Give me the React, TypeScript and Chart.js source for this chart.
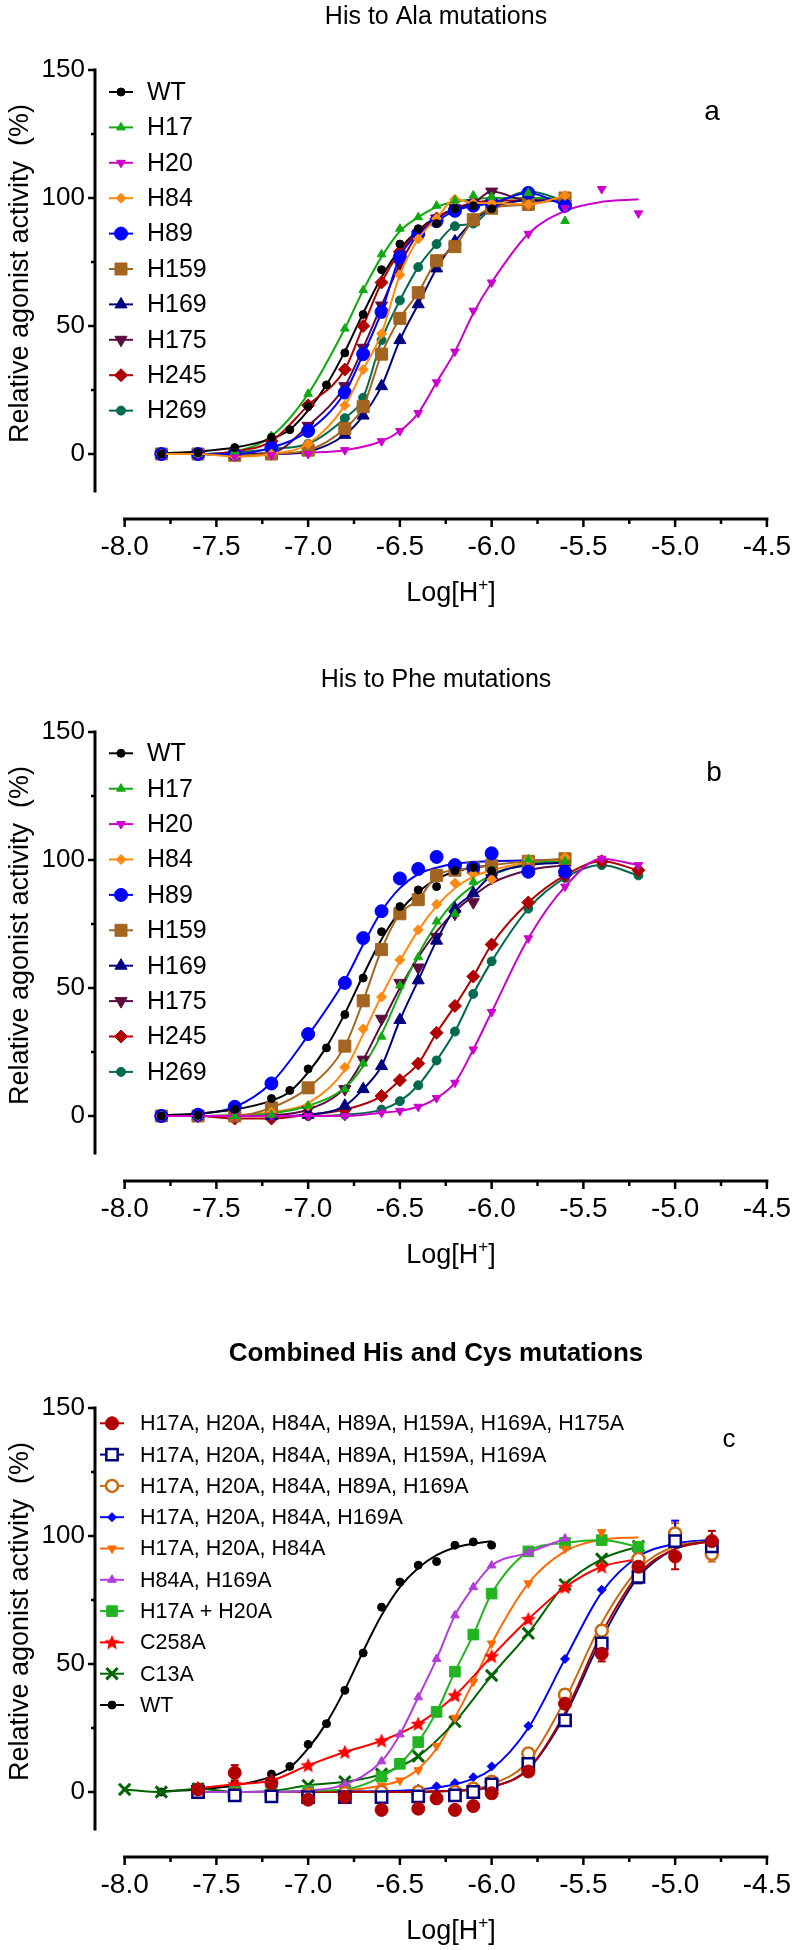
import React, { useEffect, useRef } from 'react';
import { Chart, registerables } from 'chart.js';
import { drawPoint } from 'chart.js/helpers';

Chart.register(...registerables);

const FONT = '"Liberation Sans", Arial, Helvetica, sans-serif';

// ---------- axis ticks ----------
const X_TICKS = [-8, -7.5, -7, -6.5, -6, -5.5, -5, -4.5];
const X_MINOR = [-7.75, -7.25, -6.75, -6.25, -5.75, -5.25, -4.75];
const Y_TICKS = [0, 50, 100, 150];
const Y_MINOR = [25, 75, 125];

// ---------- x grids (Log[H+]) ----------
const X_WT = [-7.8, -7.6, -7.4, -7.2, -7.1, -7.0, -6.9, -6.8, -6.7, -6.6, -6.5, -6.4, -6.3, -6.2, -6.1, -6.0];
const X_STD = [-7.8, -7.6, -7.4, -7.2, -7.0, -6.8, -6.7, -6.6, -6.5, -6.4, -6.3, -6.2, -6.1, -6.0, -5.8, -5.6];
const X_LONG = [-7.8, -7.6, -7.4, -7.2, -7.0, -6.8, -6.6, -6.5, -6.4, -6.3, -6.2, -6.1, -6.0, -5.8, -5.6, -5.4, -5.2];

// WT fitted curve (same WT in all panels)
const WT_FIT = [0.3, 1, 2.5, 6, 9.5, 17, 27, 40, 55, 69, 80, 87.5, 92.5, 95.5, 97, 98];

// ---------- panel a : His to Ala ----------
const A_WT = [0, 0.5, 2.5, 6.5, 9.5, 18.5, 27, 39.5, 54.5, 72, 82, 88, 90, 95.8, 97, 95.8];
const A_H17 = [0, 0, 1, 7, 23.5, 49, 64, 78, 88, 92.5, 97, 99, 101, 100.5, 102, 91];
const A_H17_FIT = [0, 0, 1, 7, 23.5, 49, 64, 77, 87, 92.5, 96.5, 98.5, 99.5, 100, 100, 100];
const A_H20 = [0, 0, -1, -0.5, 0, 1.5, 5, 9, 16, 28, 40, 56, 67, 86, 96, 103.5, 94];
const A_H20_FIT_X = [-7.8, -7.2, -7.0, -6.8, -6.6, -6.5, -6.4, -6.3, -6.2, -6.1, -6.0, -5.8, -5.6, -5.4, -5.2];
const A_H20_FIT = [0, 0, 0.5, 1.5, 5, 9, 16, 28, 40, 55, 67, 86, 95, 98.5, 99.5];
const A_H84 = [0, 0, -1, 0, 4, 19, 33, 47, 70, 84, 92, 99.5, 98, 98, 97.5, 101];
const A_H89 = [0, 0, 0, 2.5, 9, 24, 39, 55.5, 77, 86, 91, 95, 97, 98, 102, 97];
const A_H159 = [0, 0, -0.5, 0, 1.5, 10, 18.5, 39, 53, 63, 75.5, 81, 91.5, 96, 97.5, 100];
const A_H169 = [0, 0, -0.5, 0, 1, 7.5, 15, 26.5, 44.5, 58.5, 72.5, 83, 91, 96, 99, 99];
const A_H175 = [0, 0, 0, 0.5, 11, 26.5, 41.5, 58, 74, 86, 92, 96, 98, 102.5, 99, 99];
const A_H245 = [0, 0, 1, 5, 19, 33, 50, 67, 79, 87, 92, 96, 98, 99, 99, 99];
const A_H269 = [0, 0, 0.5, 2, 4, 14, 22, 44.5, 60, 73, 82, 89, 90, 96, 102.5, 99];

// ---------- panel b : His to Phe ----------
const B_WT = [0, 0.3, 2.6, 6.8, 10, 18.4, 26.6, 39.6, 53.9, 72, 81.8, 88.3, 89.6, 95.8, 97.1, 95.8];
const B_H17 = [0, 0, 0, 0.5, 4, 10.5, 20.5, 31, 51, 62, 76, 79, 91.5, 96, 100.2, 99.5];
const B_H17_FIT = [0, 0, 0.3, 1, 4, 11, 19.5, 32, 48, 63, 75, 84, 90, 94, 98.5, 99.5];
const B_H84 = [0, 0, 0, 1.5, 4, 19, 34, 46.5, 61, 72.7, 82.7, 91, 94.5, 92.5, 100.3, 101];
const B_H84_FIT = [0, 0, 0.3, 1.5, 5, 18, 32, 47, 60.5, 72.5, 82, 89, 93.5, 96, 99, 100];
const B_H89 = [0, 0.5, 3.6, 12.7, 32, 52, 69.5, 80, 92.8, 96.5, 101.2, 98, 97, 102.6, 95.4, 95.4];
const B_H89_FIT = [0, 0.8, 3.5, 13, 31.5, 53, 67, 80, 89, 94.5, 97, 98.5, 99.2, 99.5, 99.8, 100];
const B_H159 = [0, 0, 0, 3.2, 11, 27.3, 45, 65, 79, 84.5, 94, 96, 97, 98, 99.5, 100.5];
const B_H169 = [0, 0, 0, 0, 0.5, 4, 10.5, 19.5, 37.5, 53, 68.5, 81, 87, 94, 98, 99];
const B_H175 = [0, 0, 0, 0, 2.5, 10.5, 22, 38, 52, 58, 70, 79, 83.5, 93, 97, 98];
const B_H175_FIT = [0, 0, 0, 0.3, 2.5, 11, 22, 36, 50, 62, 72, 80, 86, 91, 96, 98];
const B_H20 = [0, 0, 0, 0, 0, 0, 1.3, 2, 3.6, 7, 13, 26, 40.6, 69.4, 89.6, 100.5, 98];
const B_H245 = [0, 0, -1, -1, 0.5, 2.5, 7.8, 14, 20.5, 32.5, 43, 54.5, 67, 83.4, 94, 99.5, 96];
const B_H269 = [0, 0, 0, 0, 0, 0.5, 2.5, 5.8, 12, 21.7, 33, 47.7, 60.4, 81, 93, 98, 94];

// ---------- panel c : combined ----------
const C_WT = [0, 0.4, 3, 7, 10, 18.6, 26.7, 39.7, 54.3, 72.2, 82, 88.6, 90, 96.4, 97.7, 96.4];
const C_S1_X = [-7.6, -7.4, -7.2, -7.0, -6.8, -6.6, -6.4, -6.3, -6.2, -6.1, -6.0, -5.8, -5.6, -5.4, -5.2, -5.0, -4.8];
const C_S1 = [1, 7.5, 3.5, -3, -2, -7, -6.5, -2.5, -7, -5.5, -0.5, 8, 34.5, 54, 88, 92, 98];
const C_S1_ERR = [2, 3, 1.5, 1.5, 1, 1.5, 1.5, 1, 1.5, 1.5, 1, 1.5, 2, 3, 3, 5, 4];
const C_FIT_X = [-7.6, -6.6, -6.2, -6.0, -5.8, -5.6, -5.4, -5.2, -5.0, -4.8];
const C_S1_FIT = [0, 0, 0.5, 2, 9, 31, 62, 85, 95, 98];
const C_S23_X = [-7.6, -7.4, -7.2, -7.0, -6.8, -6.6, -6.4, -6.2, -6.1, -6.0, -5.8, -5.6, -5.4, -5.2, -5.0, -4.8];
const C_S2 = [0, -1.3, -1.7, -2, -2, -2, -1.7, -1.3, 0, 3, 11, 28, 58, 84, 98, 96];
const C_S2_ERR = [0, 0, 0, 0, 0, 0, 0, 0, 0, 0, 1, 1.5, 2, 2.5, 2, 2];
const C_S2_FIT = [0, 0, 0.5, 2, 9, 30, 60, 84, 95, 98];
const C_S3 = [0, -1, -1, -1, -0.5, 0, 0, 0, 1.3, 4, 15, 38, 63, 91, 101, 93];
const C_S3_ERR = [0, 0, 0, 0, 0, 0, 0, 0, 0, 1, 1.5, 2, 2, 2.5, 4, 3];
const C_S3_FIT = [0, 0, 0.5, 3, 12, 36, 66, 87, 96, 98];
const C_S4_X = [-7.6, -7.4, -7.2, -7.0, -6.8, -6.6, -6.4, -6.3, -6.2, -6.1, -6.0, -5.8, -5.6, -5.4, -5.2, -5.0, -4.8];
const C_S4 = [0, -0.5, -0.5, -0.5, 0, 0.5, 1.3, 2.2, 3.5, 5.8, 10, 25.8, 52, 79, 92, 101, 94];
const C_S4_ERR = [0, 0, 0, 0, 0, 0, 0, 0, 0, 0, 0, 0, 0, 0, 1.5, 5, 3];
const C_S4_FIT_X = [-7.6, -6.6, -6.4, -6.2, -6.0, -5.8, -5.6, -5.4, -5.2, -5.0, -4.8];
const C_S4_FIT = [0, 0.3, 1, 3, 9, 25, 52, 78, 92, 97, 98.5];
const C_MID_X = [-7.6, -7.4, -7.2, -7.0, -6.8, -6.6, -6.5, -6.4, -6.3, -6.2, -6.1, -6.0, -5.8, -5.6, -5.4, -5.2];
const C_S5 = [0, 0, 0, 0, 0.5, 2.5, 4.5, 8.5, 18, 29, 43, 58, 81.5, 95, 101.5, 91];
const C_S5_FIT = [0, 0, 0, 0, 0.5, 2.5, 4.5, 9, 17, 29, 43, 58, 81.5, 94, 98.5, 99.5];
const C_S6_X = [-7.6, -7.4, -7.2, -7.0, -6.8, -6.6, -6.5, -6.4, -6.3, -6.2, -6.1, -6.0, -5.8, -5.6];
const C_S6 = [0, 0, 0, 0.5, 3, 12, 22.5, 37, 52, 69, 80, 88.5, 93.5, 99];
const C_S7 = [0, 0, 0, 0.5, 1, 6, 11, 19.5, 31.3, 47, 61.5, 77.5, 94, 97.3, 98.4, 95.8];
const C_S8_X = [-7.6, -7.4, -7.2, -7.0, -6.8, -6.6, -6.4, -6.2, -6.0, -5.8, -5.6, -5.4, -5.2];
const C_S8 = [1.5, 3, 4.5, 10.4, 15.6, 20, 26.6, 37.7, 53, 67.5, 80, 88, 91];
const C_S9_X = [-8.0, -7.8, -7.6, -7.4, -7.2, -7.0, -6.8, -6.6, -6.4, -6.2, -6.0, -5.8, -5.6, -5.4, -5.2];
const C_S9 = [1, 0, 1.3, 0, 0.4, 2.6, 4, 7, 14, 27.5, 45.5, 62, 81, 91, 96];

// ---------- geometry ----------
const AXIS_LEFT = 95;
const PLOT_X0 = 125;
const PLOT_X1 = 775;
const TOP = 70;
const ZERO_Y = 454;
const BOTTOM = 519;
const X_MIN = -8 - (PLOT_X0 - AXIS_LEFT) / ((PLOT_X1 - PLOT_X0) / 3.5);
const Y_MIN = -(BOTTOM - ZERO_Y) / ((ZERO_Y - TOP) / 150);

type Series = {
  label: string; x: number[]; y: number[]; color: string; style: any; r: number;
  rot?: number; open?: boolean; bw?: number; fitX?: number[]; fitY?: number[]; err?: number[];
};

type PanelCfg = {
  H: number; title: string; bold: boolean; titleSize: number; titleY: number;
  letter: string; letterX: number; letterY: number; letterSize: number;
  legY0: number; legDy: number; legMX: number; legL0: number; legL1: number; legTX: number; legFont: number;
  series: Series[];
};

const PANELS: PanelCfg[] = [
  {
    H: 662, title: 'His to Ala mutations', bold: false, titleSize: 25, titleY: 17,
    letter: 'a', letterX: 712, letterY: 112, letterSize: 28,
    legY0: 92, legDy: 35.4, legMX: 121, legL0: 109, legL1: 133, legTX: 147, legFont: 25,
    series: [
      { label: 'WT', x: X_WT, y: A_WT, color: '#000000', style: 'circle', r: 4, fitX: X_WT, fitY: WT_FIT },
      { label: 'H17', x: X_STD, y: A_H17, color: '#11aa11', style: 'triangle', r: 5, fitX: X_STD, fitY: A_H17_FIT },
      { label: 'H20', x: X_LONG, y: A_H20, color: '#cc00cc', style: 'triangle', rot: 180, r: 5, fitX: A_H20_FIT_X, fitY: A_H20_FIT },
      { label: 'H84', x: X_STD, y: A_H84, color: '#ff8a10', style: 'rectRot', r: 5 },
      { label: 'H89', x: X_STD, y: A_H89, color: '#0000ff', style: 'circle', r: 6.5 },
      { label: 'H159', x: X_STD, y: A_H159, color: '#a3651f', style: 'rect', r: 8.5 },
      { label: 'H169', x: X_STD, y: A_H169, color: '#000080', style: 'triangle', r: 7 },
      { label: 'H175', x: X_STD, y: A_H175, color: '#5c0a40', style: 'triangle', rot: 180, r: 7 },
      { label: 'H245', x: X_STD, y: A_H245, color: '#b00000', style: 'rectRot', r: 6.5 },
      { label: 'H269', x: X_STD, y: A_H269, color: '#006a4e', style: 'circle', r: 4.5 },
    ],
  },
  {
    H: 676, title: 'His to Phe mutations', bold: false, titleSize: 25, titleY: 18,
    letter: 'b', letterX: 714, letterY: 111, letterSize: 28,
    legY0: 91.3, legDy: 35.4, legMX: 121, legL0: 109, legL1: 133, legTX: 147, legFont: 25,
    series: [
      { label: 'WT', x: X_WT, y: B_WT, color: '#000000', style: 'circle', r: 4, fitX: X_WT, fitY: WT_FIT },
      { label: 'H17', x: X_STD, y: B_H17, color: '#11aa11', style: 'triangle', r: 5, fitX: X_STD, fitY: B_H17_FIT },
      { label: 'H20', x: X_LONG, y: B_H20, color: '#cc00cc', style: 'triangle', rot: 180, r: 5 },
      { label: 'H84', x: X_STD, y: B_H84, color: '#ff8a10', style: 'rectRot', r: 5, fitX: X_STD, fitY: B_H84_FIT },
      { label: 'H89', x: X_STD, y: B_H89, color: '#0000ff', style: 'circle', r: 6.5, fitX: X_STD, fitY: B_H89_FIT },
      { label: 'H159', x: X_STD, y: B_H159, color: '#a3651f', style: 'rect', r: 8.5 },
      { label: 'H169', x: X_STD, y: B_H169, color: '#000080', style: 'triangle', r: 7 },
      { label: 'H175', x: X_STD, y: B_H175, color: '#5c0a40', style: 'triangle', rot: 180, r: 7, fitX: X_STD, fitY: B_H175_FIT },
      { label: 'H245', x: X_LONG, y: B_H245, color: '#b00000', style: 'rectRot', r: 6.5 },
      { label: 'H269', x: X_LONG, y: B_H269, color: '#006a4e', style: 'circle', r: 4.5 },
    ],
  },
  {
    H: 612, title: 'Combined His and Cys mutations', bold: true, titleSize: 26, titleY: 16,
    letter: 'c', letterX: 729, letterY: 102, letterSize: 26,
    legY0: 85.3, legDy: 31.3, legMX: 112, legL0: 100, legL1: 124, legTX: 140, legFont: 21.5,
    series: [
      { label: 'H17A, H20A, H84A, H89A, H159A, H169A, H175A', x: C_S1_X, y: C_S1, color: '#b00000', style: 'circle', r: 6.5, fitX: C_FIT_X, fitY: C_S1_FIT, err: C_S1_ERR },
      { label: 'H17A, H20A, H84A, H89A, H159A, H169A', x: C_S23_X, y: C_S2, color: '#000080', style: 'rect', r: 8, open: true, bw: 2.5, fitX: C_FIT_X, fitY: C_S2_FIT, err: C_S2_ERR },
      { label: 'H17A, H20A, H84A, H89A, H169A', x: C_S23_X, y: C_S3, color: '#cc6a10', style: 'circle', r: 6, open: true, bw: 2.5, fitX: C_FIT_X, fitY: C_S3_FIT, err: C_S3_ERR },
      { label: 'H17A, H20A, H84A, H169A', x: C_S4_X, y: C_S4, color: '#0000ff', style: 'rectRot', r: 4.5, fitX: C_S4_FIT_X, fitY: C_S4_FIT, err: C_S4_ERR },
      { label: 'H17A, H20A, H84A', x: C_MID_X, y: C_S5, color: '#ff6a00', style: 'triangle', rot: 180, r: 5, fitX: C_MID_X, fitY: C_S5_FIT },
      { label: 'H84A, H169A', x: C_S6_X, y: C_S6, color: '#b53cdc', style: 'triangle', r: 5 },
      { label: 'H17A + H20A', x: C_MID_X, y: C_S7, color: '#22b422', style: 'rect', r: 7.5 },
      { label: 'C258A', x: C_S8_X, y: C_S8, color: '#ff0000', style: 'star', r: 8 },
      { label: 'C13A', x: C_S9_X, y: C_S9, color: '#006400', style: 'crossRot', r: 8, bw: 3 },
      { label: 'WT', x: X_WT, y: C_WT, color: '#000000', style: 'circle', r: 4, fitX: X_WT, fitY: WT_FIT },
    ],
  },
];

function makeStar(color: string, r: number): HTMLCanvasElement {
  const size = Math.ceil(2 * r + 2);
  const c = document.createElement('canvas');
  c.width = size;
  c.height = size;
  const g = c.getContext('2d')!;
  const cx = size / 2, cy = size / 2 + 0.5;
  g.beginPath();
  for (let i = 0; i < 10; i++) {
    const rad = i % 2 === 0 ? r : r * 0.45;
    const a = -Math.PI / 2 + (i * Math.PI) / 5;
    const px = cx + rad * Math.cos(a), py = cy + rad * Math.sin(a);
    if (i === 0) g.moveTo(px, py); else g.lineTo(px, py);
  }
  g.closePath();
  g.fillStyle = color;
  g.fill();
  return c;
}

function Panel({ cfg }: { cfg: PanelCfg }) {
  const ref = useRef<HTMLCanvasElement>(null);

  useEffect(() => {
    const canvas = ref.current!;
    const styles = cfg.series.map((s) => (s.style === 'star' ? makeStar(s.color, s.r) : s.style));
    const datasets: any[] = [];
    cfg.series.forEach((s, k) => {
      datasets.push({
        label: s.label,
        data: s.x.map((x, i) => ({ x, y: s.y[i] })),
        showLine: !s.fitX,
        borderColor: s.color,
        borderWidth: 2,
        cubicInterpolationMode: 'monotone',
        fill: false,
        pointStyle: styles[k],
        pointRadius: s.r,
        pointHoverRadius: s.r,
        pointRotation: s.rot || 0,
        pointBackgroundColor: s.open ? '#ffffff' : s.color,
        pointBorderColor: s.color,
        pointBorderWidth: s.bw ?? 1,
      });
    });
    cfg.series.forEach((s) => {
      if (s.fitX && s.fitY) {
        datasets.push({
          label: s.label + ' fit',
          data: s.fitX.map((x, i) => ({ x, y: s.fitY![i] })),
          showLine: true,
          borderColor: s.color,
          borderWidth: 2,
          cubicInterpolationMode: 'monotone',
          fill: false,
          pointRadius: 0,
          pointHoverRadius: 0,
        });
      }
    });

    const seg = (ctx: any, x0: number, y0: number, x1: number, y1: number) => {
      ctx.beginPath(); ctx.moveTo(x0, y0); ctx.lineTo(x1, y1); ctx.stroke();
    };

    const errorBars = {
      id: 'errorBars',
      beforeDatasetsDraw(chart: any) {
        const { ctx } = chart;
        const xs = chart.scales.x, ys = chart.scales.y;
        ctx.save();
        ctx.lineWidth = 2;
        cfg.series.forEach((s) => {
          if (!s.err) return;
          ctx.strokeStyle = s.color;
          s.err.forEach((e, i) => {
            if (!e) return;
            const px = xs.getPixelForValue(s.x[i]);
            const p0 = ys.getPixelForValue(s.y[i] - e);
            const p1 = ys.getPixelForValue(s.y[i] + e);
            seg(ctx, px, p0, px, p1);
            seg(ctx, px - 4, p0, px + 4, p0);
            seg(ctx, px - 4, p1, px + 4, p1);
          });
        });
        ctx.restore();
      },
    };

    const decor = {
      id: 'decor',
      afterDraw(chart: any) {
        const { ctx, chartArea } = chart;
        const xs = chart.scales.x, ys = chart.scales.y;
        ctx.save();
        ctx.strokeStyle = '#000';
        ctx.fillStyle = '#000';
        ctx.lineCap = 'butt';
        // y axis
        const ax = chartArea.left;
        ctx.lineWidth = 3;
        seg(ctx, ax, ys.getPixelForValue(150) - 1.5, ax, ys.getPixelForValue(-15));
        ctx.lineWidth = 2.5;
        Y_TICKS.forEach((v) => { const p = ys.getPixelForValue(v); seg(ctx, ax - 7, p, ax, p); });
        Y_MINOR.forEach((v) => { const p = ys.getPixelForValue(v); seg(ctx, ax - 4, p, ax, p); });
        // x axis
        const ay = chartArea.bottom;
        ctx.lineWidth = 3;
        seg(ctx, xs.getPixelForValue(-8) - 1.5, ay, xs.getPixelForValue(-4.5) + 1.5, ay);
        ctx.lineWidth = 2.5;
        X_TICKS.forEach((v) => { const p = xs.getPixelForValue(v); seg(ctx, p, ay, p, ay + 8); });
        X_MINOR.forEach((v) => { const p = xs.getPixelForValue(v); seg(ctx, p, ay, p, ay + 5); });

        // panel title
        ctx.textAlign = 'center';
        ctx.textBaseline = 'middle';
        ctx.font = `${cfg.bold ? 'bold ' : ''}${cfg.titleSize}px ${FONT}`;
        ctx.fillText(cfg.title, 436, cfg.titleY);
        // letter
        ctx.font = `${cfg.letterSize}px ${FONT}`;
        ctx.fillText(cfg.letter, cfg.letterX, cfg.letterY);

        // x title Log[H+]
        const big = `27px ${FONT}`, small = `17px ${FONT}`;
        ctx.font = big;
        const w1 = ctx.measureText('Log[H').width;
        const w3 = ctx.measureText(']').width;
        ctx.font = small;
        const w2 = ctx.measureText('+').width;
        const base = 601;
        const x0 = 451 - (w1 + w2 + w3) / 2;
        ctx.textAlign = 'left';
        ctx.textBaseline = 'alphabetic';
        ctx.font = big;
        ctx.fillText('Log[H', x0, base);
        ctx.font = small;
        ctx.fillText('+', x0 + w1, base - 11);
        ctx.font = big;
        ctx.fillText(']', x0 + w1 + w2, base);

        // y title
        ctx.save();
        ctx.translate(20.5, 273.5);
        ctx.rotate(-Math.PI / 2);
        ctx.textAlign = 'center';
        ctx.textBaseline = 'middle';
        ctx.font = `27px ${FONT}`;
        ctx.fillText('Relative agonist activity  (%)', 0, 0);
        ctx.restore();

        // legend
        cfg.series.forEach((s, k) => {
          const cy = cfg.legY0 + k * cfg.legDy;
          ctx.strokeStyle = s.color;
          ctx.lineWidth = 2;
          seg(ctx, cfg.legL0, cy, cfg.legL1, cy);
          ctx.fillStyle = s.open ? '#ffffff' : s.color;
          ctx.strokeStyle = s.color;
          ctx.lineWidth = s.bw ?? 1;
          drawPoint(ctx, { pointStyle: styles[k], rotation: s.rot || 0, radius: s.r, borderWidth: s.bw ?? 1 }, cfg.legMX, cy);
          ctx.fillStyle = '#000';
          ctx.font = `${cfg.legFont}px ${FONT}`;
          ctx.textAlign = 'left';
          ctx.textBaseline = 'middle';
          ctx.fillText(s.label, cfg.legTX, cy + 1);
        });
        ctx.restore();
      },
    };

    const H = cfg.H;
    const chart = new Chart(canvas, {
      type: 'line',
      data: { datasets },
      options: {
        animation: false,
        responsive: false,
        maintainAspectRatio: false,
        devicePixelRatio: 1,
        layout: { padding: { top: TOP, right: 802 - PLOT_X1, left: 0, bottom: 0 } },
        plugins: { legend: { display: false }, tooltip: { enabled: false }, title: { display: false } },
        scales: {
          x: {
            type: 'linear',
            min: X_MIN,
            max: -4.5,
            grid: { display: false, drawTicks: false },
            border: { display: false },
            afterBuildTicks: (s: any) => { s.ticks = X_TICKS.map((v) => ({ value: v })); },
            afterFit: (s: any) => { s.height = H - BOTTOM; },
            ticks: {
              color: '#000',
              font: { family: FONT, size: 28 },
              padding: 11,
              autoSkip: false,
              maxRotation: 0,
              callback: (v: any) => Number(v).toFixed(1),
            },
          },
          y: {
            type: 'linear',
            min: Y_MIN,
            max: 150,
            grid: { display: false, drawTicks: false },
            border: { display: false },
            afterBuildTicks: (s: any) => { s.ticks = Y_TICKS.map((v) => ({ value: v })); },
            afterFit: (s: any) => { s.width = AXIS_LEFT; },
            ticks: {
              color: '#000',
              font: { family: FONT, size: 26 },
              padding: 10,
              autoSkip: false,
              callback: (v: any) => String(v),
            },
          },
        },
      } as any,
      plugins: [errorBars, decor],
    });
    return () => chart.destroy();
  }, [cfg]);

  return <canvas ref={ref} width={802} height={cfg.H} style={{ display: 'block', width: 802, height: cfg.H }} />;
}

export default function App() {
  return (
    <div style={{ position: 'absolute', left: 0, top: 0, width: 802, background: '#ffffff' }}>
      {PANELS.map((p, i) => (
        <Panel key={i} cfg={p} />
      ))}
    </div>
  );
}
